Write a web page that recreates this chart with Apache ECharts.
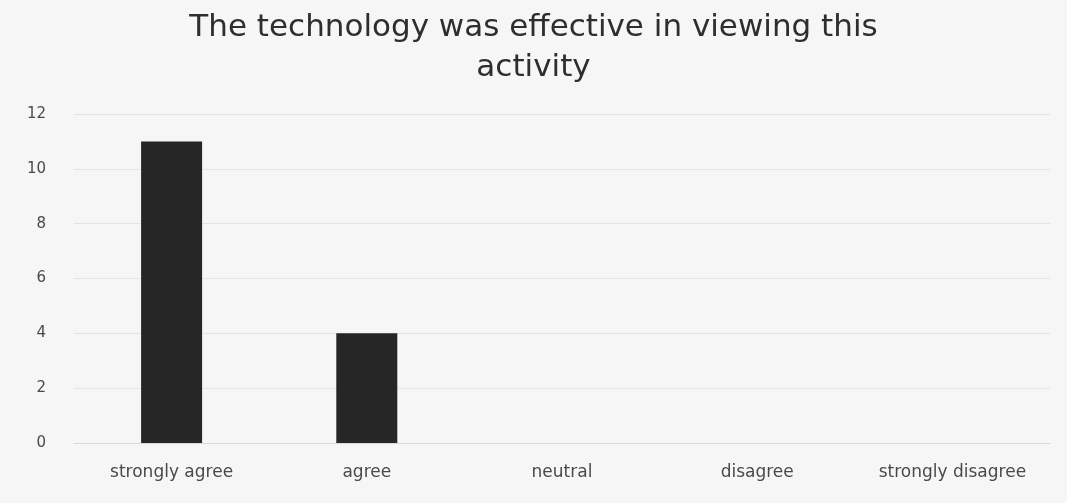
<!DOCTYPE html>
<html><head><meta charset="utf-8">
<script src="https://cdn.jsdelivr.net/npm/echarts@6/dist/echarts.min.js"></script>
<style>html,body{margin:0;padding:0;background:#f6f6f6}#c{width:1067px;height:503px}</style>
</head><body><div id="c"></div>
<script>
const titleText = "The technology was effective in viewing this\nactivity";
const categories = ["strongly agree", "agree", "neutral", "disagree", "strongly disagree"];
const values = [11, 4, 0, 0, 0];
const yTicks = { min: 0, max: 12, interval: 2 };

const chart = echarts.init(document.getElementById('c'), null, {renderer: 'canvas'});
chart.setOption({
  backgroundColor: '#f6f6f6',
  animation: false,
  title: {
    text: titleText,
    left: 'center',
    top: 3,
    textStyle: { fontFamily: 'DejaVu Sans', fontSize: 31, fontWeight: 'normal', color: '#2e2e2e', lineHeight: 40 }
  },
  grid: { left: 74, right: 17, top: 114, bottom: 60, containLabel: false },
  xAxis: {
    type: 'category',
    data: categories,
    axisLine: { show: true, lineStyle: { color: '#d9d9d9' } },
    axisTick: { show: false },
    axisLabel: { color: '#4a4a4a', fontFamily: 'DejaVu Sans', fontSize: 17, margin: 21, interval: 0 }
  },
  yAxis: {
    type: 'value',
    min: yTicks.min, max: yTicks.max, interval: yTicks.interval,
    axisLine: { show: false },
    axisTick: { show: false },
    splitLine: { lineStyle: { color: '#e4e4e4' } },
    axisLabel: { color: '#4a4a4a', fontFamily: 'DejaVu Sans', fontSize: 15, margin: 28 }
  },
  series: [{
    type: 'bar',
    data: values,
    barWidth: 61,
    itemStyle: { color: '#262626' }
  }]
});
</script></body></html>
